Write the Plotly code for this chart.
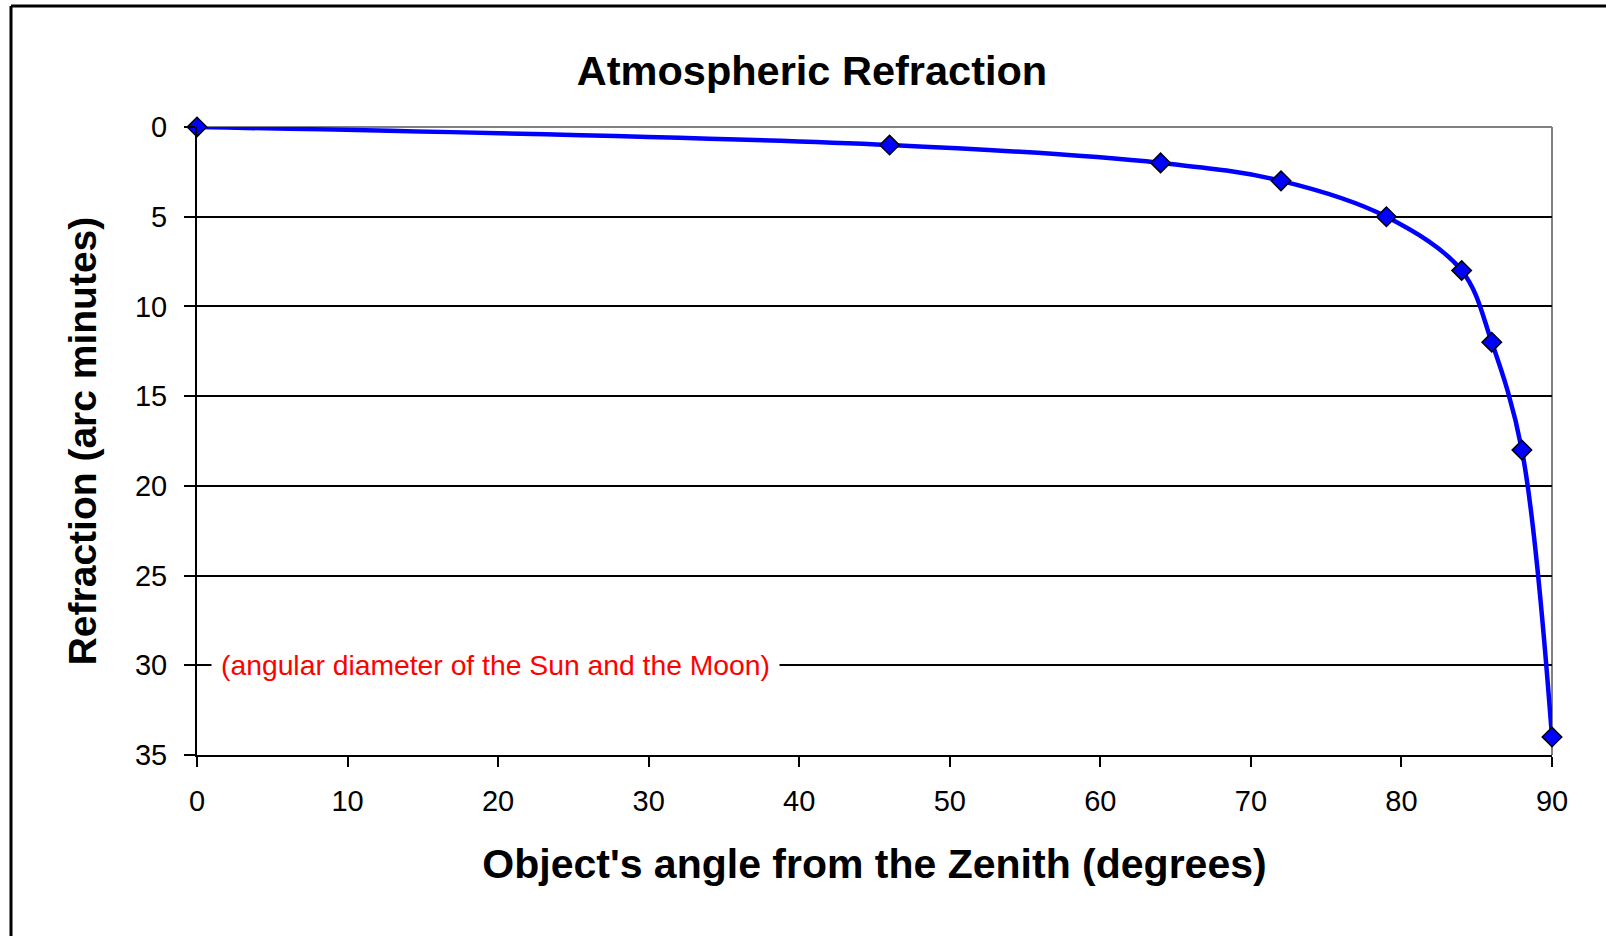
import plotly.graph_objects as go

# Refraction of light near the horizon vs. zenith angle
zenith_angle_deg = [0, 46, 64, 72, 79, 84, 86, 88, 90]
refraction_arcmin = [0, 1, 2, 3, 5, 8, 12, 18, 34]

x_ticks = [0, 10, 20, 30, 40, 50, 60, 70, 80, 90]
y_ticks = [0, 5, 10, 15, 20, 25, 30, 35]

sun_moon_diameter = 30
sun_moon_label = "(angular diameter of the Sun and the Moon)"

W, H = 1606, 936
L, R, T, B = 197, 1552, 127, 755  # plot-area edges in pixels


def px_x(px):
    return (px - L) / (R - L)


def px_y(py):
    return (B - py) / (B - T)


FONT = "Liberation Sans, Arial, sans-serif"

fig = go.Figure()
fig.add_trace(go.Scatter(
    x=zenith_angle_deg,
    y=refraction_arcmin,
    mode="lines+markers",
    line=dict(color="#0000FF", width=4.5, shape="spline", smoothing=1.0),
    marker=dict(symbol="diamond", size=15, color="#0000FF",
                line=dict(color="#000000", width=1.5)),
    cliponaxis=False,
    showlegend=False,
))

fig.update_layout(
    width=W, height=H,
    margin=dict(l=L, r=W - R, t=T, b=H - B, pad=0),
    paper_bgcolor="white",
    plot_bgcolor="white",
    font=dict(family=FONT, color="black"),
    title=dict(
        text="<b>Atmospheric Refraction</b>",
        font=dict(family=FONT, size=41.5, color="black"),
        x=812 / W, xref="container", xanchor="center",
        y=1 - 70 / H, yref="container", yanchor="middle",
    ),
    xaxis=dict(
        range=[0, 90],
        tickvals=x_ticks,
        ticks="outside", ticklen=10, tickwidth=2, tickcolor="black",
        tickfont=dict(family=FONT, size=29, color="black"),
        ticklabelstandoff=9,
        showgrid=False, zeroline=False,
        showline=True, linecolor="black", linewidth=2,
        title=dict(text="<b>Object's angle from the Zenith (degrees)</b>",
                   font=dict(family=FONT, size=41, color="black"),
                   standoff=34),
    ),
    yaxis=dict(
        range=[35, 0],
        tickvals=y_ticks,
        ticks="outside", ticklen=11, tickwidth=2, tickcolor="black",
        tickfont=dict(family=FONT, size=29, color="black"),
        ticklabelstandoff=11,
        showgrid=True, gridcolor="black", gridwidth=2,
        zeroline=False,
        showline=True, linecolor="black", linewidth=2,
        title=dict(text="<b>Refraction (arc minutes)</b>",
                   font=dict(family=FONT, size=39, color="black"),
                   standoff=26),
    ),
    shapes=[
        # grey frame on the top and right of the plot area
        dict(type="line", xref="paper", yref="paper", x0=0, x1=1, y0=1, y1=1,
             line=dict(color="#808080", width=2), layer="between"),
        dict(type="line", xref="paper", yref="paper", x0=1, x1=1, y0=0, y1=1,
             line=dict(color="#808080", width=2), layer="between"),
        # outer chart border (top and left)
        dict(type="line", xref="paper", yref="paper",
             x0=px_x(11), x1=px_x(W + 5), y0=px_y(6), y1=px_y(6),
             line=dict(color="black", width=3)),
        dict(type="line", xref="paper", yref="paper",
             x0=px_x(11), x1=px_x(11), y0=px_y(6), y1=px_y(H + 5),
             line=dict(color="black", width=3)),
    ],
    annotations=[
        dict(
            x=px_x(495.5), xref="paper",
            y=sun_moon_diameter, yref="y",
            text=sun_moon_label,
            showarrow=False,
            font=dict(family=FONT, size=28.3, color="#FF0000"),
            bgcolor="white", borderpad=9,
            xanchor="center", yanchor="middle",
        )
    ],
)

fig.write_html("out.html")
